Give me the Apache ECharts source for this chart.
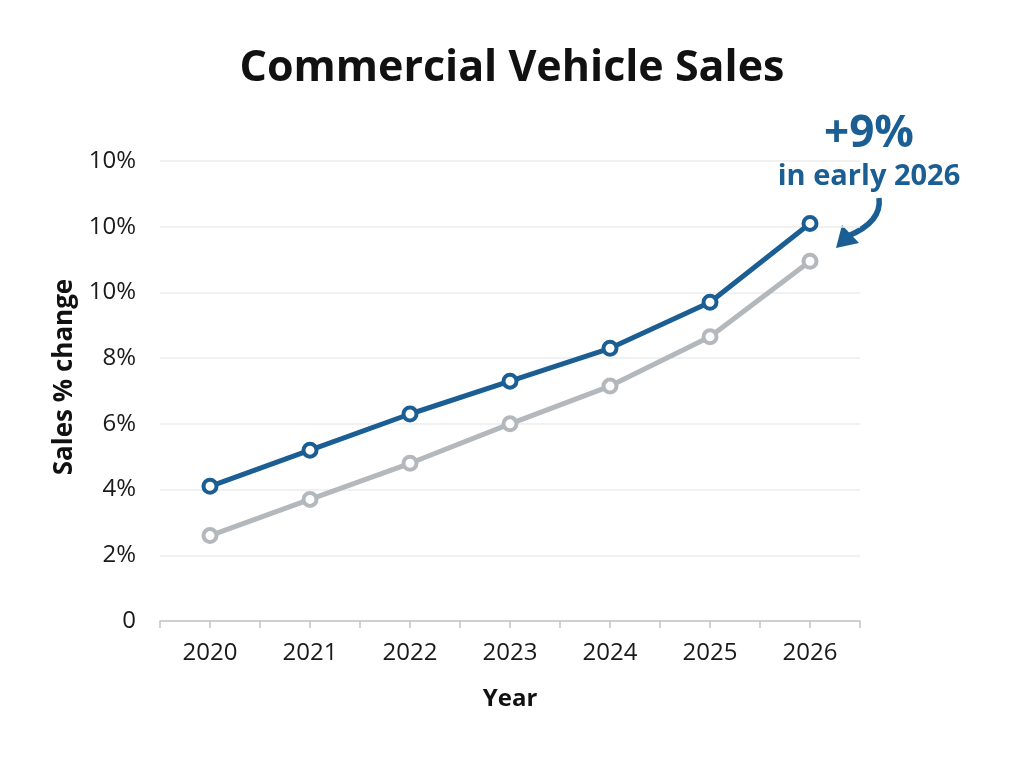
<!DOCTYPE html>
<html>
<head>
<meta charset="utf-8">
<title>Commercial Vehicle Sales</title>
<script src="https://cdn.jsdelivr.net/npm/echarts@6/dist/echarts.min.js"></script>
<style>
  html, body { margin: 0; padding: 0; background: #fff; }
  #chart { width: 1024px; height: 768px; }
</style>
</head>
<body>
<div id="chart"></div>
<script>
// data
var years = ['2020', '2021', '2022', '2023', '2024', '2025', '2026'];
var salesBlue = [4.1, 5.2, 6.3, 7.3, 8.3, 9.7, 12.1];
var salesGray = [2.6, 3.7, 4.8, 6.0, 7.15, 8.65, 10.95];
var yTickLabels = ['0', '2%', '4%', '6%', '8%', '10%', '10%', '10%'];
var halfSteps = ['', '', '', '', '', '', '', '', '', '', '', '', '', ''];

var FONT = '"Open Sans", "Noto Sans", sans-serif';
var BLUE = '#1b5e93';
var GRAY = '#b3b8bd';

var chart = echarts.init(document.getElementById('chart'));

chart.setOption({
    backgroundColor: '#fff',
    animation: false,
    title: {
        text: 'Commercial Vehicle Sales',
        left: 'center',
        top: 42,
        textStyle: { fontFamily: FONT, fontSize: 43, fontWeight: 'bold', color: '#111' }
    },
    grid: { left: 160, right: 164, top: 161, bottom: 147 },
    xAxis: [
        {
            type: 'category',
            data: years,
            boundaryGap: true,
            name: 'Year',
            nameLocation: 'middle',
            nameGap: 66,
            nameTextStyle: { fontFamily: FONT, fontSize: 24, fontWeight: 'bold', color: '#111' },
            axisLine: { lineStyle: { color: '#c4c4c4', width: 1.5 } },
            axisTick: { show: false },
            axisLabel: { fontFamily: FONT, fontSize: 24, color: '#1a1a1a', margin: 20 }
        },
        {
            // hidden axis only to draw the half-step ticks
            type: 'category',
            data: halfSteps,
            position: 'bottom',
            boundaryGap: true,
            axisLine: { show: false },
            axisTick: { show: true, inside: false, length: 7, lineStyle: { color: '#c4c4c4', width: 1.5 } },
            axisLabel: { show: false }
        }
    ],
    yAxis: {
        type: 'value',
        min: 0,
        max: 14,
        interval: 2,
        name: 'Sales % change',
        nameLocation: 'middle',
        nameRotate: 90,
        nameGap: 80,
        nameTextStyle: {
            fontFamily: FONT, fontSize: 26, fontWeight: 'bold', color: '#111',
            padding: [0, 0, 0, 28]
        },
        axisLine: { show: false },
        axisTick: { show: false },
        splitLine: { lineStyle: { color: '#ececec', width: 1.5 } },
        axisLabel: {
            fontFamily: FONT,
            fontSize: 24,
            color: '#1a1a1a',
            margin: 24,
            formatter: function (v) {
                return yTickLabels[Math.round(v / 2)];
            }
        }
    },
    series: [
        {
            name: 'Gray',
            type: 'line',
            data: salesGray,
            symbol: 'circle',
            symbolSize: 13,
            lineStyle: { color: GRAY, width: 5 },
            itemStyle: { color: '#fff', borderColor: GRAY, borderWidth: 4 },
            z: 2
        },
        {
            name: 'Blue',
            type: 'line',
            data: salesBlue,
            symbol: 'circle',
            symbolSize: 13,
            lineStyle: { color: BLUE, width: 5 },
            itemStyle: { color: '#fff', borderColor: BLUE, borderWidth: 4 },
            z: 3
        }
    ],
    graphic: [
        {
            type: 'text',
            x: 869,
            y: 134,
            style: {
                text: '+9%', fontFamily: FONT, fontSize: 44, fontWeight: 'bold', fill: BLUE,
                align: 'center', verticalAlign: 'middle'
            }
        },
        {
            type: 'text',
            x: 869,
            y: 177,
            style: {
                text: 'in early 2026', fontFamily: FONT, fontSize: 29, fontWeight: 'bold', fill: BLUE,
                align: 'center', verticalAlign: 'middle'
            }
        },
        {
            type: 'bezierCurve',
            shape: { x1: 879, y1: 198, x2: 848, y2: 236, cpx1: 882, cpy1: 222 },
            style: { stroke: BLUE, lineWidth: 5.5, fill: null }
        },
        {
            type: 'polygon',
            shape: { points: [[836, 248], [842, 225], [859, 243]] },
            style: { fill: BLUE }
        }
    ]
});
</script>
</body>
</html>
